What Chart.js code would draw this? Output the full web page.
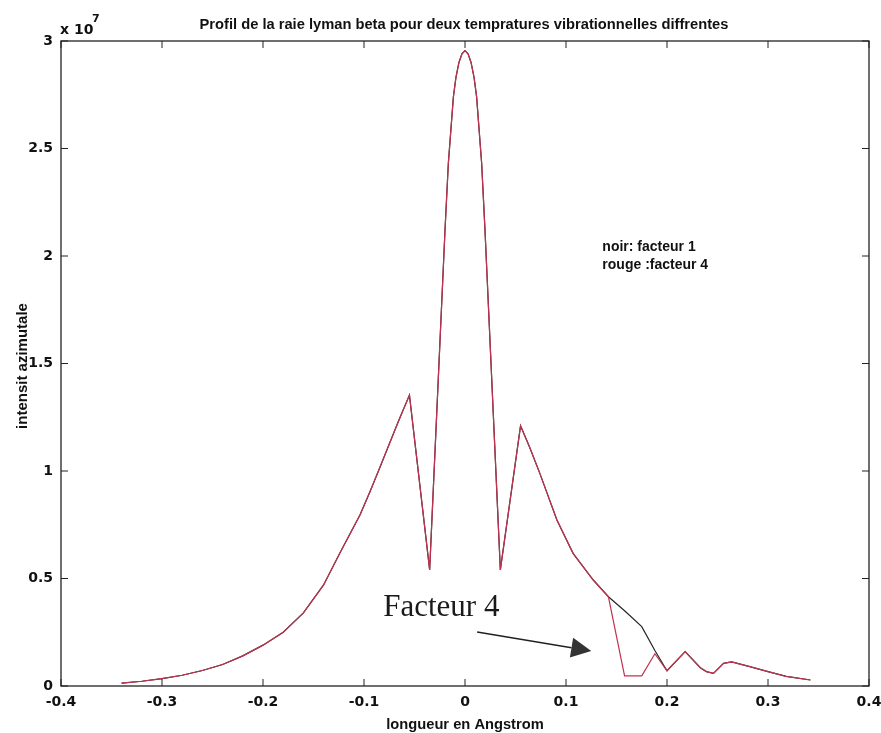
<!DOCTYPE html>
<html>
<head>
<meta charset="utf-8">
<script src="https://cdn.jsdelivr.net/npm/chart.js@4.4.0/dist/chart.umd.min.js"></script>
<style>
  html, body { margin: 0; padding: 0; background: #fff; overflow: hidden; }
  canvas { display: block; }
</style>
</head>
<body>
<canvas id="raie" width="881" height="733"></canvas>
<script>
// longueur d'onde (Angstrom), intensités en unités de 1e7
const longueurs = [-0.340, -0.320, -0.300, -0.280, -0.260, -0.240, -0.220, -0.200, -0.180, -0.160,
  -0.140, -0.124, -0.104, -0.094, -0.084, -0.066, -0.055, -0.035, -0.0198, -0.0165, -0.0115, -0.009,
  -0.006, -0.003, 0, 0.003, 0.006, 0.009, 0.0115, 0.0165, 0.0198, 0.035, 0.055, 0.064, 0.074, 0.091,
  0.107, 0.127, 0.142, 0.158, 0.175, 0.188, 0.200, 0.218, 0.233, 0.239, 0.246, 0.256, 0.264, 0.282,
  0.300, 0.318, 0.342];
const intensiteNoir = [0.013, 0.022, 0.034, 0.050, 0.072, 0.100, 0.140, 0.190, 0.250, 0.340,
  0.470, 0.617, 0.795, 0.905, 1.020, 1.230, 1.353, 0.540, 2.120, 2.430, 2.740, 2.830,
  2.900, 2.940, 2.955, 2.940, 2.900, 2.830, 2.740, 2.430, 2.120, 0.540, 1.210, 1.110, 0.990, 0.772,
  0.617, 0.493, 0.415, 0.350, 0.276, 0.165, 0.071, 0.160, 0.085, 0.067, 0.059, 0.105, 0.112, 0.090,
  0.067, 0.045, 0.028];
const intensiteRouge = [0.013, 0.022, 0.034, 0.050, 0.072, 0.100, 0.140, 0.190, 0.250, 0.340,
  0.470, 0.617, 0.795, 0.905, 1.020, 1.230, 1.353, 0.540, 2.120, 2.430, 2.740, 2.830,
  2.900, 2.940, 2.955, 2.940, 2.900, 2.830, 2.740, 2.430, 2.120, 0.540, 1.210, 1.110, 0.990, 0.772,
  0.617, 0.493, 0.415, 0.047, 0.047, 0.150, 0.071, 0.160, 0.085, 0.067, 0.059, 0.105, 0.112, 0.090,
  0.067, 0.045, 0.028];

const ticksX = [-0.4, -0.3, -0.2, -0.1, 0, 0.1, 0.2, 0.3, 0.4];
const ticksY = [0, 0.5, 1, 1.5, 2, 2.5, 3];

const POLICE = '"DejaVu Sans", sans-serif';
const HELV = '"Liberation Sans", Arial, sans-serif';
const ROUGE = '#c0334f';
const NOIR = '#262626';

const points = serie => longueurs.map((x, i) => ({ x: x, y: serie[i] }));

// cadre, graduations intérieures et textes façon matlab
const cadre = {
  id: 'cadre',
  afterDraw(chart) {
    const { ctx, chartArea: a, scales: { x, y } } = chart;
    const trait = (x1, y1, x2, y2) => { ctx.beginPath(); ctx.moveTo(x1, y1); ctx.lineTo(x2, y2); ctx.stroke(); };
    ctx.save();
    ctx.strokeStyle = '#222';
    ctx.lineWidth = 1.3;
    ctx.strokeRect(a.left, a.top, a.right - a.left, a.bottom - a.top);
    ctx.lineWidth = 1;
    ticksX.forEach(v => {
      const px = x.getPixelForValue(v);
      trait(px, a.bottom, px, a.bottom - 7);
      trait(px, a.top, px, a.top + 7);
    });
    ticksY.forEach(v => {
      const py = y.getPixelForValue(v);
      trait(a.left, py, a.left + 7, py);
      trait(a.right, py, a.right - 7, py);
    });

    ctx.fillStyle = '#111';
    ctx.font = 'bold 14.7px ' + HELV;
    ctx.textAlign = 'center';
    ctx.textBaseline = 'alphabetic';
    ctx.fillText('Profil de la raie lyman beta pour deux tempratures vibrationnelles diffrentes', 464, 29);
    ctx.fillText('longueur en Angstrom', 465, 729);

    ctx.save();
    ctx.translate(27, 366);
    ctx.rotate(-Math.PI / 2);
    ctx.font = 'bold 15px ' + HELV;
    ctx.fillText('intensit azimutale', 0, 0);
    ctx.restore();

    ctx.textAlign = 'left';
    ctx.font = 'bold 14px ' + POLICE;
    ctx.fillText('x 10', a.left - 1, 34);
    ctx.font = 'bold 11px ' + POLICE;
    ctx.fillText('7', a.left + 31, 22);

    ctx.font = 'bold 14px ' + HELV;
    ctx.fillText('noir: facteur 1', x.getPixelForValue(0.136), y.getPixelForValue(2.025));
    ctx.fillText('rouge :facteur 4', x.getPixelForValue(0.136), y.getPixelForValue(1.94));

    ctx.font = '31px "Liberation Serif", serif';
    ctx.fillStyle = '#1a1a1a';
    ctx.fillText('Facteur 4', x.getPixelForValue(-0.081), y.getPixelForValue(0.326));

    // flèche
    const x0 = x.getPixelForValue(0.012), y0 = y.getPixelForValue(0.251);
    const x1 = x.getPixelForValue(0.125), y1 = y.getPixelForValue(0.163);
    const ang = Math.atan2(y1 - y0, x1 - x0);
    const lg = 20, dm = 10;
    const bx = x1 - lg * Math.cos(ang), by = y1 - lg * Math.sin(ang);
    ctx.strokeStyle = '#222';
    ctx.lineWidth = 1.6;
    trait(x0, y0, bx, by);
    ctx.fillStyle = '#333';
    ctx.beginPath();
    ctx.moveTo(x1, y1);
    ctx.lineTo(bx + dm * Math.sin(ang), by - dm * Math.cos(ang));
    ctx.lineTo(bx - dm * Math.sin(ang), by + dm * Math.cos(ang));
    ctx.closePath();
    ctx.fill();
    ctx.restore();
  }
};

const fmt = v => String(Math.round(v * 10) / 10);

new Chart(document.getElementById('raie'), {
  type: 'scatter',
  data: {
    datasets: [
      { label: 'rouge', data: points(intensiteRouge), borderColor: ROUGE, borderWidth: 1.2, showLine: true, pointRadius: 0, tension: 0 },
      { label: 'noir', data: points(intensiteNoir), borderColor: NOIR, borderWidth: 1.2, showLine: true, pointRadius: 0, tension: 0 }
    ]
  },
  options: {
    responsive: false,
    animation: false,
    layout: { padding: { left: 0, right: 0, top: 41, bottom: 0 } },
    plugins: { legend: { display: false }, tooltip: { enabled: false }, title: { display: false } },
    scales: {
      x: {
        type: 'linear', min: -0.4, max: 0.4,
        afterBuildTicks: s => { s.ticks = ticksX.map(v => ({ value: v })); },
        afterFit: s => { s.height = 47; s.paddingLeft = 0; s.paddingRight = 12; },
        grid: { display: false, drawTicks: false },
        border: { display: false },
        ticks: { callback: fmt, padding: 8, color: '#111', maxRotation: 0, font: { family: POLICE, size: 14, weight: 'bold' } }
      },
      y: {
        type: 'linear', min: 0, max: 3,
        afterBuildTicks: s => { s.ticks = ticksY.map(v => ({ value: v })); },
        afterFit: s => { s.width = 61; s.paddingTop = 0; s.paddingBottom = 0; },
        grid: { display: false, drawTicks: false },
        border: { display: false },
        ticks: { callback: fmt, padding: 8, color: '#111', font: { family: POLICE, size: 14, weight: 'bold' } }
      }
    }
  },
  plugins: [cadre]
});
</script>
</body>
</html>
